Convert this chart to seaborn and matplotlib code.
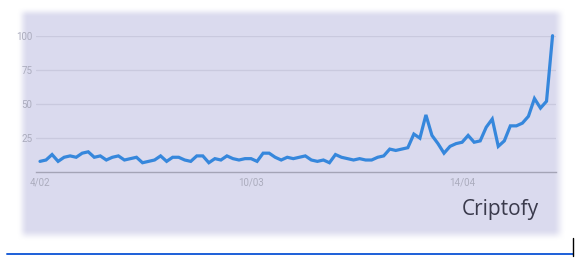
import numpy as np
import pandas as pd
import matplotlib
matplotlib.use("Agg")
import matplotlib.pyplot as plt
import matplotlib.dates as mdates
from matplotlib.lines import Line2D
import seaborn as sns

# ---- data (Google-Trends-like interest, daily) ----
start_date = "2020-02-04"
values = [8, 9, 13, 8, 11, 12, 11, 14, 15, 11,
          12, 9, 11, 12, 9, 10, 11, 7, 8, 9,
          12, 8, 11, 11, 9, 8, 12, 12, 7, 10,
          9, 12, 10, 9, 10, 10, 8, 14, 14, 11,
          9, 11, 10, 11, 12, 9, 8, 9, 7, 13,
          11, 10, 9, 10, 9, 9, 11, 12, 17, 16,
          17, 18, 28, 25, 42, 27, 21, 14, 19, 21,
          22, 27, 22, 23, 33, 39, 19, 23, 34, 34,
          36, 41, 54, 47, 52, 100]
y_ticks = [25, 50, 75, 100]
x_tick_dates = ["2020-02-04", "2020-03-10", "2020-04-14"]
x_tick_labels = ["4/02", "10/03", "14/04"]
brand = "Criptofy"

dates = pd.date_range(start_date, periods=len(values), freq="D")
df = pd.DataFrame({"date": dates, "interest": values})

# ---- figure ----
W, H = 581, 268
sns.set_theme(style="white")
plt.rcParams["font.family"] = ["Roboto", "DejaVu Sans"]
fig = plt.figure(figsize=(W / 100, H / 100), dpi=100)
fig.patch.set_facecolor("white")

# soft-edged lavender panel
def ramp(arr, a, b):
    t = np.clip((arr - a) / (b - a), 0, 1)
    return t * t * (3 - 2 * t)

xs = np.arange(W) + 0.5
ys = np.arange(H) + 0.5
mx = ramp(xs, 17, 28) * (1 - ramp(xs, 553, 566))
my = ramp(ys, 7, 17) * (1 - ramp(ys, 229, 241))
mask = np.outer(my, mx)
lav = np.array([218, 218, 238]) / 255.0
img = np.ones((H, W, 4))
img[..., :3] = lav
img[..., 3] = mask
bg = fig.add_axes([0, 0, 1, 1])
bg.imshow(img, extent=(0, W, H, 0), aspect="auto", interpolation="bilinear")
bg.set_xlim(0, W)
bg.set_ylim(H, 0)
bg.axis("off")

# main axes: x pixels 36..556, y pixels 35.7 (100) .. 172.3 (0)
left, right = 36, 556
top, bottom = 35.7, 172.3
ax = fig.add_axes([left / W, 1 - bottom / H, (right - left) / W, (bottom - top) / H])
ax.set_facecolor("none")

sns.lineplot(data=df, x="date", y="interest", ax=ax, color="#3687dc",
             linewidth=2.3, clip_on=False, solid_joinstyle="miter")

d0 = mdates.date2num(pd.Timestamp(start_date))
px_per_day = 6.03
ax.set_xlim(d0 - (40 - left) / px_per_day, d0 + (right - 40) / px_per_day)
ax.set_ylim(0, 100)

ax.set_yticks(y_ticks)
ax.set_yticklabels([str(v) for v in y_ticks])
ax.set_xticks([mdates.date2num(pd.Timestamp(d)) for d in x_tick_dates])
ax.set_xticklabels(x_tick_labels)
ax.tick_params(axis="both", length=0, labelsize=7, labelcolor="#abacbd")
ax.tick_params(axis="y", pad=2.5)
ax.tick_params(axis="x", pad=4)
ax.set_xlabel("")
ax.set_ylabel("")

ax.grid(axis="y", color="#c9c9de", linewidth=0.9)
ax.grid(axis="x", visible=False)
for s in ["left", "right", "top"]:
    ax.spines[s].set_visible(False)
ax.spines["bottom"].set_color("#a4a4b6")
ax.spines["bottom"].set_linewidth(1.0)

# brand text
fig.text(500 / W, 1 - 215 / H, brand, ha="center", va="baseline",
         fontsize=15, color="#3a3a4c", family=["Open Sans", "DejaVu Sans"])

# bottom blue rule and black tick
bg.add_line(Line2D([7, 573], [254.3, 254.3], color="#1c5fd8", linewidth=1.4))
bg.add_line(Line2D([573, 573], [238, 256], color="black", linewidth=1.0))

fig.savefig("out.png", dpi=100, facecolor="white")
